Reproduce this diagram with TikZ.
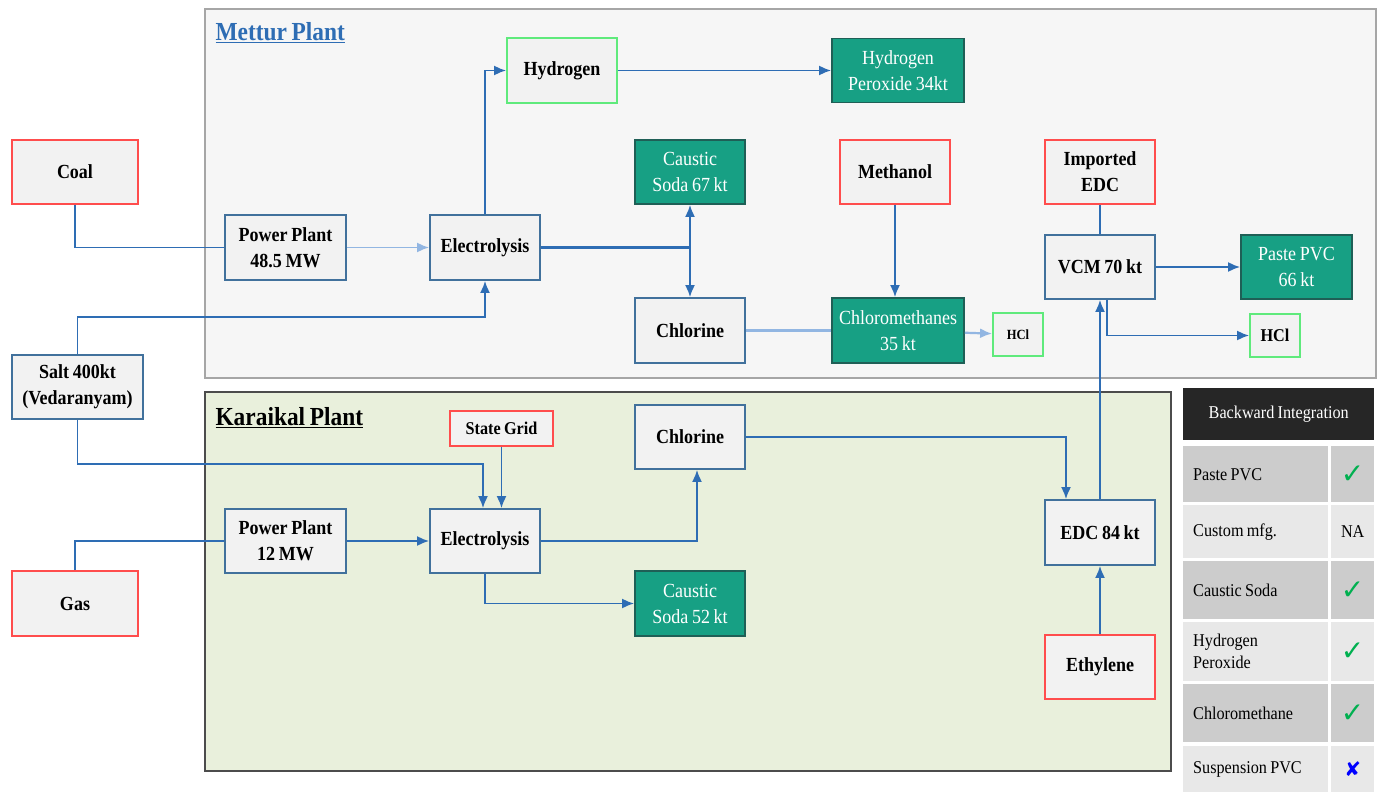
\documentclass[tikz,border=0pt]{standalone}
\usepackage{fontspec}
\usetikzlibrary{arrows.meta}
\setmainfont{Liberation Serif}[FakeStretch=0.9, WordSpace=0.8]
\newfontfamily\symfont{DejaVu Sans}

\definecolor{boxgray}{HTML}{F2F2F2}
\definecolor{boxblue}{HTML}{41719C}
\definecolor{flowblue}{HTML}{2E6DB4}
\definecolor{fadeblue}{HTML}{92B6E2}
\definecolor{prodteal}{HTML}{17A084}
\definecolor{prodedge}{HTML}{1F5F56}
\definecolor{inred}{HTML}{FF4D4D}
\definecolor{outgreen}{HTML}{5FEA7C}
\definecolor{metturbg}{HTML}{F6F6F6}
\definecolor{karaikalbg}{HTML}{E9F0DC}
\definecolor{rowdark}{HTML}{CCCCCC}
\definecolor{rowlight}{HTML}{E8E8E8}
\definecolor{headdark}{HTML}{262626}
\definecolor{tickgreen}{HTML}{00B050}

\newcommand{\markyes}{{\symfont\color{tickgreen}\fontsize{28}{28}\selectfont ✓}}
\newcommand{\markno}{{\symfont\color{blue}\fontsize{20}{20}\selectfont ✘}}

\tikzset{
  unit/.style={draw=boxblue, fill=boxgray, line width=1.8pt, align=center, inner sep=2pt,
    font=\bfseries\fontsize{20}{26}\selectfont},
  feed/.style={unit, draw=inred},
  side/.style={unit, draw=outgreen},
  prod/.style={unit, draw=prodedge, fill=prodteal, text=white, font=\fontsize{20}{26}\selectfont},
  link/.style={draw=flowblue, line width=1.8pt},
  flow/.style={link, -{Latex[length=12pt,width=10pt]}},
  faded/.style={draw=fadeblue},
  cell/.style={anchor=north west, minimum width=145, text width=125, inner xsep=10pt, align=flush left,
    font=\fontsize{18}{22}\selectfont},
  cellmark/.style={anchor=north west, minimum width=43, inner sep=0pt, align=center,
    font=\fontsize{18}{22}\selectfont}
}

\begin{document}
\begin{tikzpicture}[x=1pt, y=-1pt]
\useasboundingbox (0,0) rectangle (1385,792);

% plant areas
\draw[fill=metturbg, draw=black!35, line width=2pt] (205,9) rectangle (1376,378);
\draw[fill=karaikalbg, draw=black!70, line width=2.5pt] (205,392) rectangle (1171,771);
\node[anchor=west, text=flowblue, font=\bfseries\fontsize{26}{30}\selectfont] (mettur) at (212,33) {\underline{Mettur Plant}};
\node[anchor=west, font=\bfseries\fontsize{26}{30}\selectfont] (karaikal) at (212,418) {\underline{Karaikal Plant}};

% outside inputs
\node[feed, minimum width=126, minimum height=64] (coal) at (75,172) {Coal};
\node[unit, minimum width=131, minimum height=64] (salt) at (77.5,387) {Salt 400kt\\(Vedaranyam)};
\node[feed, minimum width=126, minimum height=65] (gas) at (75,603.5) {Gas};

% Mettur
\node[unit, minimum width=121, minimum height=65] (ppM) at (285.5,247.5) {Power Plant\\48.5 MW};
\node[unit, minimum width=110, minimum height=65] (elecM) at (485,247.5) {Electrolysis};
\node[side, minimum width=110, minimum height=65] (hyd) at (562,70.5) {Hydrogen};
\node[prod, minimum width=132, minimum height=64] (perox) at (898,70.5) {Hydrogen\\Peroxide 34kt};
\node[prod, minimum width=110, minimum height=64] (causM) at (690,172) {Caustic\\Soda 67 kt};
\node[unit, minimum width=110, minimum height=65] (chlM) at (690,330.5) {Chlorine};
\node[feed, minimum width=110, minimum height=64] (meth) at (895,172) {Methanol};
\node[prod, minimum width=132, minimum height=65] (chlmeth) at (898,330.5) {Chloromethanes\\35 kt};
\node[side, minimum width=50, minimum height=43, font=\bfseries\fontsize{14}{16}\selectfont] (hclA) at (1018,334.5) {HCl};
\node[feed, minimum width=110, minimum height=64] (impedc) at (1100,172) {Imported\\EDC};
\node[unit, minimum width=110, minimum height=64] (vcm) at (1100,267) {VCM 70 kt};
\node[prod, minimum width=111, minimum height=64] (paste) at (1296.5,267) {Paste PVC\\66 kt};
\node[side, minimum width=50, minimum height=43, font=\bfseries\fontsize{18}{20}\selectfont] (hclB) at (1275,335.5) {HCl};

% Karaikal
\node[feed, minimum width=103, minimum height=35, font=\bfseries\fontsize{18}{20}\selectfont] (grid) at (501.5,428.5) {State Grid};
\node[unit, minimum width=110, minimum height=64] (chlK) at (690,437) {Chlorine};
\node[unit, minimum width=121, minimum height=64] (ppK) at (285.5,541) {Power Plant\\12 MW};
\node[unit, minimum width=110, minimum height=64] (elecK) at (485,541) {Electrolysis};
\node[prod, minimum width=110, minimum height=65] (causK) at (690,603.5) {Caustic\\Soda 52 kt};
\node[unit, minimum width=110, minimum height=65] (edc) at (1100,532.5) {EDC 84 kt};
\node[feed, minimum width=110, minimum height=64] (ethyl) at (1100,667) {Ethylene};

% Mettur flows
\draw[link] (coal.south) |- (ppM.west);
\draw[flow, faded] (ppM) -- (elecM);
\draw[flow] (elecM.north) |- (hyd.west);
\draw[flow] (hyd) -- (perox);
\draw[link, line width=3pt] (elecM.east) -- (elecM.east -| causM.south);
\draw[flow] (elecM.east -| causM.south) -- (causM.south);
\draw[flow] (elecM.east -| chlM.north) -- (chlM.north);
\draw[link, faded, line width=2.2pt] (chlM) -- (chlmeth);
\draw[flow, faded, line width=2.2pt] (chlmeth) -- (hclA);
\draw[flow] (meth.south) -- (meth.south |- chlmeth.north);
\draw[link] (impedc) -- (vcm);
\draw[flow] (vcm) -- (paste);
\draw[flow] ([xshift=7pt]vcm.south) |- (hclB.west);
\draw[flow] (salt.north) -- ++(0,-37) -| (elecM.south);

% Karaikal flows
\draw[flow] (salt.south) -- ++(0,44) -| ([xshift=-2pt]elecK.north);
\draw[flow] (grid.south) -- (grid.south |- elecK.north);
\draw[link] (gas.north) |- (ppK.west);
\draw[flow] (ppK) -- (elecK);
\draw[flow] (elecK.east) -| ([xshift=7pt]chlK.south);
\draw[flow] (elecK.south) |- (causK.west);
\draw[flow] (chlK.east) -| ([xshift=-34pt]edc.north);
\draw[flow] (ethyl) -- (edc);
\draw[flow] (edc.north) -- (vcm.south);

% backward integration table
\node[anchor=north west, fill=headdark, text=white, minimum width=191, minimum height=52,
  font=\fontsize{18}{22}\selectfont] (tabhead) at (1183,388) {Backward Integration};
\foreach \i/\y/\h/\shade/\txt/\mk in {1/446/56/rowdark/{Paste PVC}/\markyes,
    2/505/53/rowlight/{Custom mfg.}/NA, 3/561/58/rowdark/{Caustic Soda}/\markyes,
    4/622/59/rowlight/{Hydrogen\\Peroxide}/\markyes, 5/684/58/rowdark/{Chloromethane}/\markyes,
    6/746/46/rowlight/{Suspension PVC}/\markno}{
  \node[cell, fill=\shade, minimum height=\h] (item\i) at (1183,\y) {\txt};
  \node[cellmark, fill=\shade, minimum height=\h] (mark\i) at (1331,\y) {\mk};
}
\end{tikzpicture}
\end{document}
